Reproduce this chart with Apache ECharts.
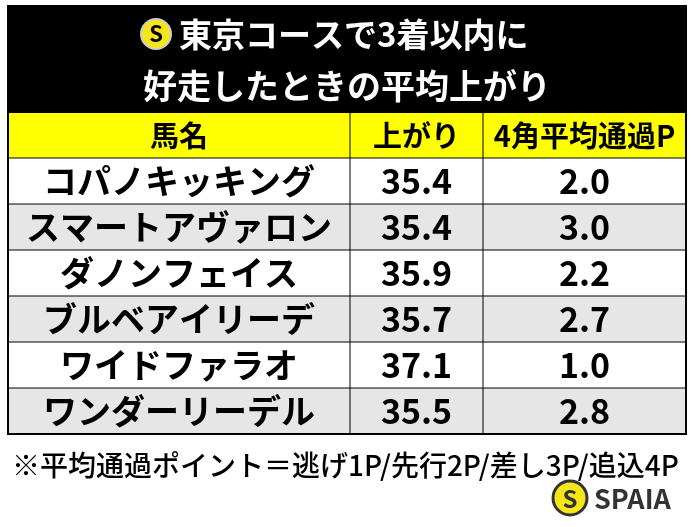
<!DOCTYPE html><html><head><meta charset="utf-8"><script src="https://cdn.jsdelivr.net/npm/echarts@6/dist/echarts.min.js"></script>
<style>html,body{margin:0;padding:0;background:#fff}#c{width:693px;height:527px}</style></head><body><div id="c"></div><script>
const titleLines=['東京コースで3着以内に','好走したときの平均上がり'];
const headers=['馬名','上がり','4角平均通過P'];
const horses=['コパノキッキング','スマートアヴァロン','ダノンフェイス','ブルベアイリーデ','ワイドファラオ','ワンダーリーデル'];
const agari=['35.4','35.4','35.9','35.7','37.1','35.5'];
const passP=['2.0','3.0','2.2','2.7','1.0','2.8'];
const note='※平均通過ポイント＝逃げ1P/先行2P/差し3P/追込4P';
(function(){
const F='"Noto Sans CJK JP"';
const L=8,R=686,cols=[8,350,483,686],T0=6,hTop=113,hBot=158,rowH=46;
const g=[];
g.push({type:'rect',shape:{x:L,y:T0,width:R-L,height:hTop-T0},style:{fill:'#000'}});
g.push({type:'circle',shape:{cx:156,cy:34,r:15},style:{fill:'#f5e61a',stroke:'#ccc',lineWidth:2}});
g.push({type:'text',x:156,y:34,style:{text:'S',fill:'#000',font:'bold 22px '+F,align:'center',verticalAlign:'middle'}});
g.push({type:'text',x:179,y:34,style:{text:titleLines[0],fill:'#fff',font:'bold 33px '+F,align:'left',verticalAlign:'middle'}});
g.push({type:'text',x:(L+R)/2,y:86,style:{text:titleLines[1],fill:'#fff',font:'bold 34px '+F,align:'center',verticalAlign:'middle'}});
g.push({type:'rect',shape:{x:L,y:hTop,width:R-L,height:hBot-hTop},style:{fill:'#ffff00'}});
headers.forEach((h,i)=>g.push({type:'text',x:(cols[i]+cols[i+1])/2,y:(hTop+hBot)/2,style:{text:h,fill:'#000',font:'bold 29px '+F,align:'center',verticalAlign:'middle'}}));
horses.forEach((n,r)=>{const y=hBot+r*rowH;
 g.push({type:'rect',shape:{x:L,y:y,width:R-L,height:rowH},style:{fill:r%2?'#e6e6e6':'#fff'}});
 [n,agari[r],passP[r]].forEach((t,i)=>g.push({type:'text',x:(cols[i]+cols[i+1])/2,y:y+rowH/2,style:{text:t,fill:'#000',font:'bold 34px '+F,align:'center',verticalAlign:'middle'}}));
});
const bot=hBot+horses.length*rowH;
for(let r=0;r<=horses.length;r++)g.push({type:'line',shape:{x1:L,y1:hBot+r*rowH,x2:R,y2:hBot+r*rowH},style:{stroke:'#000',lineWidth:1}});
[1,2].forEach(i=>g.push({type:'line',shape:{x1:cols[i],y1:hTop,x2:cols[i],y2:bot},style:{stroke:'#000',lineWidth:1}}));
g.push({type:'rect',shape:{x:L,y:T0,width:R-L,height:bot-T0},style:{fill:'none',stroke:'#000',lineWidth:2}});
g.push({type:'text',x:12,y:465,style:{text:note,fill:'#000',font:'500 28px '+F,align:'left',verticalAlign:'middle'}});
g.push({type:'circle',shape:{cx:570,cy:498,r:17},style:{fill:'#f5e61a',stroke:'#333',lineWidth:3}});
g.push({type:'text',x:570,y:499,style:{text:'S',fill:'#333',font:'bold 24px '+F,align:'center',verticalAlign:'middle'}});
g.push({type:'text',x:594,y:499,style:{text:'SPAIA',fill:'#333',font:'bold 27px '+F,align:'left',verticalAlign:'middle'}});
echarts.init(document.getElementById('c')).setOption({graphic:g});
})();
</script></body></html>
